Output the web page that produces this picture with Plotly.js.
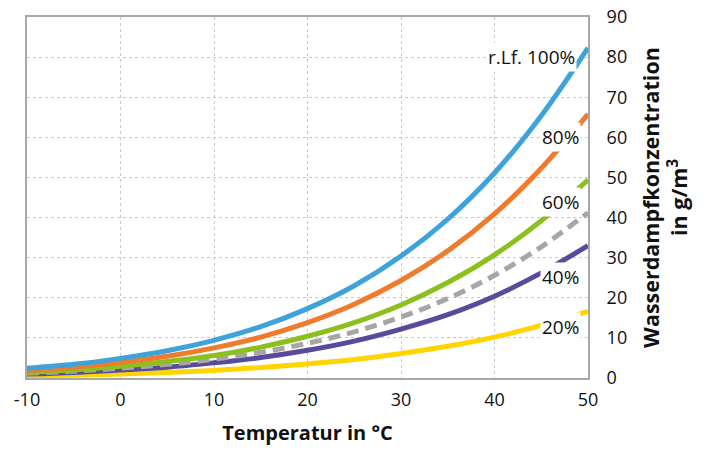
<!DOCTYPE html>
<html><head><meta charset="utf-8">
<script src="https://cdn.plot.ly/plotly-3.0.1.min.js"></script>
<style>html,body{margin:0;padding:0;background:#fff}</style>
</head><body><div id="chart" style="width:707px;height:450px"></div>
<script>
var temps = [-10, -5, 0, 5, 10, 15, 20, 25, 30, 35, 40, 45, 50];
var rh100 = [2.4, 3.4, 4.9, 6.8, 9.4, 12.8, 17.3, 23.0, 30.4, 39.6, 51.1, 65.4, 82.3];
var rh80  = [1.9, 2.7, 3.9, 5.4, 7.5, 10.2, 13.8, 18.4, 24.3, 31.7, 40.9, 52.3, 65.8];
var rh60  = [1.4, 2.0, 2.9, 4.1, 5.6, 7.7, 10.4, 13.8, 18.2, 23.8, 30.7, 39.2, 49.4];
var rh50  = [1.2, 1.7, 2.45, 3.4, 4.7, 6.4, 8.65, 11.5, 15.2, 19.8, 25.6, 32.7, 41.2];
var rh40  = [1.0, 1.4, 2.0, 2.7, 3.8, 5.1, 6.9, 9.2, 12.2, 15.8, 20.4, 26.2, 33.0];
var rh20  = [0.5, 0.7, 1.0, 1.4, 1.9, 2.6, 3.5, 4.6, 6.1, 7.9, 10.2, 13.1, 16.6];
var xTickVals = [-10, 0, 10, 20, 30, 40, 50];
var xTickText = ["-10", "0", "10", "20", "30", "40", "50"];
var labels = ["r.Lf. 100%", "80%", "60%", "40%", "20%"];
var labelX = [48.8, 49.2, 49.2, 49.2, 49.2];
var labelY = [80, 60, 43.8, 25.3, 12.8];

function tr(y, color, dash) {
  return {x: temps, y: y, mode: 'lines', type: 'scatter',
    line: {color: color, width: 5, shape: 'spline', dash: dash || 'solid'},
    hoverinfo: 'skip', showlegend: false};
}
var data = [
  tr(rh20, '#FFD500'),
  tr(rh40, '#5A4A9C'),
  tr(rh50, '#A6A6A6', '12px,7px'),
  tr(rh60, '#8CC01E'),
  tr(rh80, '#EF7B2D'),
  tr(rh100, '#3FA3D9')
];
var FONT = 'Open Sans, Noto Sans, sans-serif';
var annotations = labels.map(function(t, i) {
  return {x: labelX[i], y: labelY[i], xref: 'x', yref: 'y', text: t, showarrow: false,
    xanchor: 'right', yanchor: 'middle', bgcolor: '#ffffff', borderpad: 1,
    font: {family: FONT, size: 19, color: '#111111'}};
});
var layout = {
  width: 707, height: 450,
  margin: {l: 27, r: 119, t: 17, b: 72},
  paper_bgcolor: '#fff', plot_bgcolor: '#fff',
  font: {family: FONT, size: 18, color: '#111111'},
  xaxis: {range: [-10, 50], tickmode: 'array', tickvals: xTickVals, ticktext: xTickText,
    showgrid: true, gridcolor: '#c8c8c8',
    griddash: 'dot', gridwidth: 1, zeroline: false, showline: true, mirror: true,
    linecolor: '#a8a8a8', linewidth: 2, ticks: '', ticklabelstandoff: 4,
    tickfont: {family: FONT, size: 18, color: '#111111'},
    title: {text: 'Temperatur in °C', font: {family: FONT, size: 20, color: '#111111', weight: 700}, standoff: 16}},
  yaxis: {range: [0, 90], dtick: 10, side: 'right', showgrid: true, gridcolor: '#c8c8c8',
    griddash: 'dot', gridwidth: 1, zeroline: false, showline: true, mirror: true,
    linecolor: '#a8a8a8', linewidth: 2, ticks: '', ticklabelstandoff: 13,
    tickfont: {family: FONT, size: 18, color: '#111111'},
    title: {text: 'Wasserdampfkonzentration<br>in g/m<sup>3</sup>', font: {family: FONT, size: 21.5, color: '#111111', weight: 700}, standoff: 18}},
  annotations: annotations
};
Plotly.newPlot('chart', data, layout, {staticPlot: true, displayModeBar: false});
</script></body></html>
